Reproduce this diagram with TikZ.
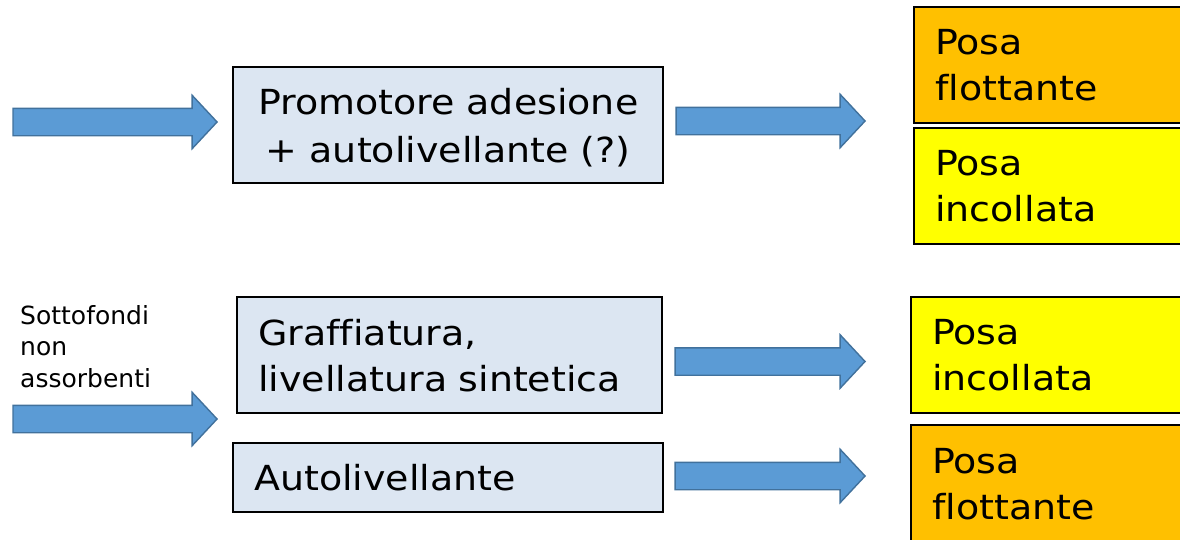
\documentclass[tikz,border=0pt]{standalone}
\usepackage{fontspec}
\setmainfont{DejaVu Sans}[Ligatures=CommonOff]
\newfontfamily\widefont{DejaVu Sans}[FakeStretch=1.1, Ligatures=CommonOff]
\usetikzlibrary{shapes.arrows,shadows}
\definecolor{boxblue}{HTML}{DCE6F2}
\definecolor{orangefill}{HTML}{FFC000}
\definecolor{yellowfill}{HTML}{FFFF00}
\definecolor{arrowfill}{HTML}{5B9BD5}
\definecolor{arrowdraw}{HTML}{41719C}
\tikzset{
  basebox/.style={draw=black, line width=2.4pt, rectangle, anchor=north west,
    font=\widefont\fontsize{34.5}{46}\selectfont, inner xsep=21pt, inner ysep=0pt,
    drop shadow={shadow xshift=1pt, shadow yshift=-1pt, opacity=0.35, fill=gray}},
  bluebox/.style={basebox, fill=boxblue},
  orangebox/.style={basebox, fill=orangefill},
  yellowbox/.style={basebox, fill=yellowfill},
  blockarrow/.style={single arrow, draw=arrowdraw, line width=1.4pt, fill=arrowfill,
    minimum width=52pt, single arrow head extend=13pt, inner xsep=0pt, inner ysep=13pt,
    minimum height=#1, single arrow tip angle=94, anchor=tip},
}
\begin{document}
\begin{tikzpicture}[x=1pt,y=-1pt]
\useasboundingbox (0,0) rectangle (1180,539);
% boxes
\node[bluebox, minimum width=430pt, minimum height=116pt, align=center, text depth=0pt,
  font=\widefont\fontsize{34.5}{48}\selectfont] (promo) at (232,66)
  {Promotore adesione\\+ autolivellante (?)};
\node[orangebox, minimum width=280pt, minimum height=116pt, text width=238pt, align=left] (flot1) at (913,6)
  {Posa\\flottante};
\node[yellowbox, minimum width=280pt, minimum height=116pt, text width=238pt, align=left] (inc1) at (913,127)
  {Posa\\incollata};
\node[bluebox, minimum width=425pt, minimum height=116pt, text width=383pt, align=left] (graff) at (236,296)
  {Graffiatura,\\livellatura sintetica};
\node[bluebox, minimum width=430pt, minimum height=69pt, text width=388pt, align=left] (auto) at (232,442)
  {Autolivellante};
\node[yellowbox, minimum width=280pt, minimum height=116pt, text width=238pt, align=left] (inc2) at (910,296)
  {Posa\\incollata};
\node[orangebox, minimum width=280pt, minimum height=118pt, text width=238pt, align=left] (flot2) at (910,424)
  {Posa\\flottante};
% label
\node[anchor=north west, inner sep=0pt, align=left, font=\fontsize{25}{31.5}\selectfont] (sotto) at (20,305)
  {Sottofondi\\non\\assorbenti};
% arrows
\node[blockarrow=204pt] (a1) at (218,122) {};
\node[blockarrow=189pt] (a2) at (866,121) {};
\node[blockarrow=204pt] (a3) at (218,419) {};
\node[blockarrow=190pt] (a4) at (866,361.5) {};
\node[blockarrow=190pt] (a5) at (866,476) {};
\end{tikzpicture}
\end{document}
